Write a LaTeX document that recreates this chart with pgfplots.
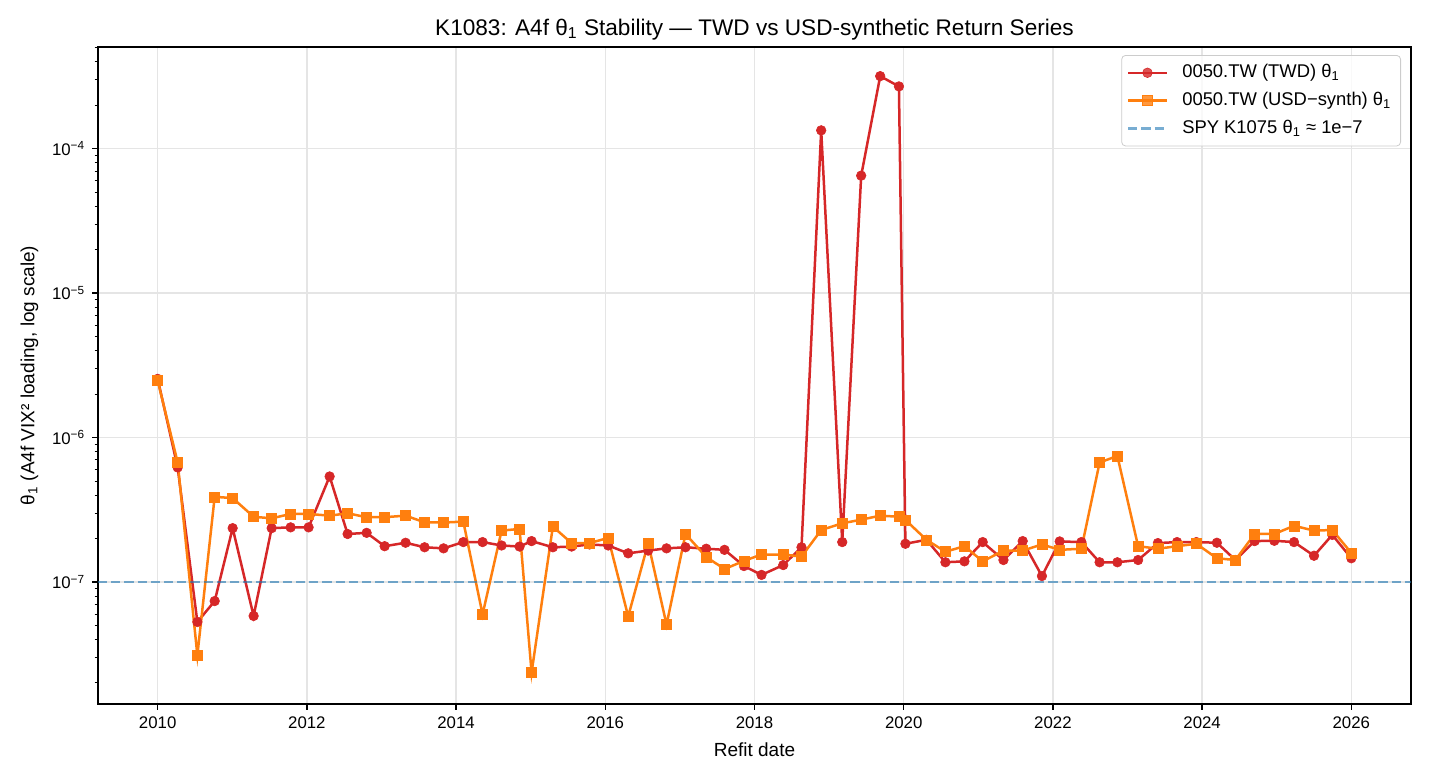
\documentclass[border=0pt]{standalone}
\usepackage{fontspec}
\setmainfont{Liberation Sans}
\usepackage{pgfplots}
\pgfplotsset{compat=1.18}
\usepackage{pgfplotstable}

\definecolor{twdred}{HTML}{D62728}
\definecolor{usdorange}{HTML}{FF7F0E}
\definecolor{spyblue}{HTML}{1F77B4}

% theta_1 loading per refit date: TWD series and USD-synthetic series
\pgfplotstableread{
date     twd      usd
2010.000 2.55e-6  2.48e-6
2010.268 6.21e-7  6.72e-7
2010.532 5.29e-8  3.11e-8
2010.764 7.38e-8  3.89e-7
2011.005 2.36e-7  3.81e-7
2011.286 5.82e-8  2.83e-7
2011.528 2.36e-7  2.76e-7
2011.782 2.39e-7  2.96e-7
2012.023 2.39e-7  2.96e-7
2012.305 5.38e-7  2.88e-7
2012.546 2.15e-7  2.99e-7
2012.801 2.19e-7  2.81e-7
2013.042 1.77e-7  2.81e-7
2013.323 1.87e-7  2.88e-7
2013.578 1.74e-7  2.59e-7
2013.832 1.71e-7  2.58e-7
2014.097 1.89e-7  2.62e-7
2014.355 1.89e-7  5.97e-8
2014.610 1.79e-7  2.27e-7
2014.851 1.76e-7  2.33e-7
2015.012 1.92e-7  2.36e-8
2015.297 1.74e-7  2.42e-7
2015.548 1.76e-7  1.86e-7
2015.789 1.82e-7  1.86e-7
2016.039 1.79e-7  2.02e-7
2016.307 1.58e-7  5.78e-8
2016.575 1.65e-7  1.86e-7
2016.821 1.71e-7  5.07e-8
2017.075 1.74e-7  2.15e-7
2017.353 1.70e-7  1.49e-7
2017.598 1.67e-7  1.23e-7
2017.859 1.29e-7  1.40e-7
2018.094 1.12e-7  1.55e-7
2018.385 1.31e-7  1.55e-7
2018.630 1.74e-7  1.50e-7
2018.894 1.34e-4  2.29e-7
2019.176 1.89e-7  2.55e-7
2019.430 6.51e-5  2.70e-7
2019.685 3.18e-4  2.88e-7
2019.936 2.70e-4  2.83e-7
2020.023 1.84e-7  2.69e-7
2020.305 1.96e-7  1.96e-7
2020.559 1.37e-7  1.62e-7
2020.814 1.39e-7  1.77e-7
2021.059 1.89e-7  1.39e-7
2021.337 1.42e-7  1.65e-7
2021.595 1.92e-7  1.65e-7
2021.853 1.10e-7  1.82e-7
2022.091 1.91e-7  1.67e-7
2022.382 1.89e-7  1.70e-7
2022.626 1.37e-7  6.72e-7
2022.864 1.37e-7  7.46e-7
2023.142 1.42e-7  1.77e-7
2023.407 1.86e-7  1.70e-7
2023.664 1.89e-7  1.77e-7
2023.923 1.89e-7  1.84e-7
2024.198 1.87e-7  1.46e-7
2024.446 1.42e-7  1.42e-7
2024.704 1.92e-7  2.15e-7
2024.968 1.93e-7  2.15e-7
2025.232 1.89e-7  2.45e-7
2025.500 1.52e-7  2.27e-7
2025.745 2.12e-7  2.29e-7
2026.000 1.46e-7  1.59e-7
}\thetadata

\begin{document}
\begin{tikzpicture}
\begin{axis}[
  scale only axis,
  width=656.5pt, height=328.5pt,
  ymode=log,
  xmin=2009.2, xmax=2026.8,
  ymin=1.43e-8, ymax=5.06e-4,
  xtick={2010,2012,...,2026},
  xticklabel style={/pgf/number format/1000 sep={},
                    /pgf/number format/assume math mode=true},
  ytick={1e-7,1e-6,1e-5,1e-4},
  yticklabels={10\textsuperscript{−7},10\textsuperscript{−6},10\textsuperscript{−5},10\textsuperscript{−4}},
  minor ytick={2e-8,3e-8,4e-8,5e-8,6e-8,7e-8,8e-8,9e-8,
               2e-7,3e-7,4e-7,5e-7,6e-7,7e-7,8e-7,9e-7,
               2e-6,3e-6,4e-6,5e-6,6e-6,7e-6,8e-6,9e-6,
               2e-5,3e-5,4e-5,5e-5,6e-5,7e-5,8e-5,9e-5,
               2e-4,3e-4,4e-4,5e-4},
  tick align=outside, tick pos=left,
  major tick length=2.9pt, minor tick length=1.7pt,
  major tick style={black, line width=0.67pt},
  minor tick style={black, line width=0.5pt},
  axis line style={line width=0.67pt},
  grid=major,
  major grid style={black!10, line width=0.67pt},
  ticklabel style={font=\fontsize{8.4}{10}\selectfont},
  label style={font=\fontsize{9.5}{11}\selectfont},
  title style={font=\fontsize{11.3}{13}\selectfont, yshift=-6pt},
  title={K1083: A4f θ\textsubscript{1} Stability — TWD vs USD-synthetic Return Series},
  xlabel={Refit date},
  ylabel={θ\textsubscript{1} (A4f VIX² loading, log scale)},
  legend cell align=left,
  legend image code/.code={%
    \draw[mark repeat=2,mark phase=2] plot coordinates {(0cm,0cm) (0.34cm,0cm) (0.68cm,0cm)};
    \path (0.86cm,0cm);},
  legend style={at={(1,1)}, anchor=north east, xshift=-5pt, yshift=-4pt,
    draw=black!20, rounded corners=2pt, fill=white, fill opacity=0.8, text opacity=1,
    font=\fontsize{9.2}{11}\selectfont, row sep=1.8pt, inner sep=2.6pt},
]
\addplot[twdred, line width=1.25pt, mark=*, mark size=2.4pt,
         mark options={solid, line width=0.3pt}]
  table[x=date, y=twd]{\thetadata};
\addlegendentry{0050.TW (TWD) θ\textsubscript{1}}
\addplot[usdorange, line width=1.25pt, mark=square*, mark size=2.5pt,
         mark options={solid, line width=0.3pt}]
  table[x=date, y=usd]{\thetadata};
\addlegendentry{0050.TW (USD−synth) θ\textsubscript{1}}
\addplot[spyblue, opacity=0.6, line width=1.25pt, dash pattern=on 4.6pt off 2pt]
  coordinates {(2009.2,1e-7) (2026.8,1e-7)};
\addlegendentry{SPY K1075 θ\textsubscript{1} ≈ 1e−7}
\end{axis}
\pgfresetboundingbox
\useasboundingbox (-49pt,-38pt) rectangle (666pt,352pt);
\end{tikzpicture}
\end{document}
